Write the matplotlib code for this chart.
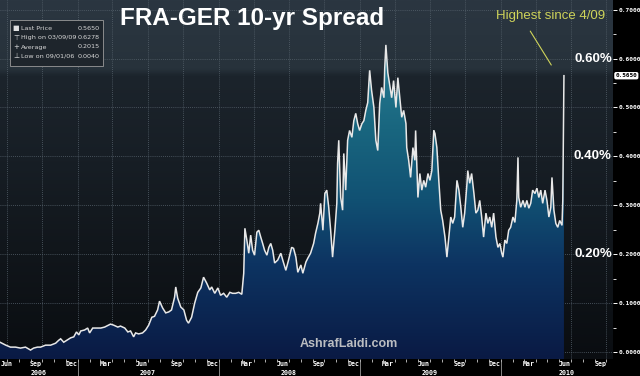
"""FRA-GER 10-yr spread chart (Bloomberg style)."""

import matplotlib

matplotlib.use("Agg")
import matplotlib.pyplot as plt
import matplotlib.dates as mdates
import matplotlib.transforms as mtransforms
import numpy as np
import pandas as pd
from matplotlib.colors import LinearSegmentedColormap
from matplotlib.patches import PathPatch, Rectangle
from matplotlib.ticker import MultipleLocator, FuncFormatter

# --- data --------------------------------------------------------------------
DATES = [
    "2006-06-14", "2006-06-29", "2006-07-11", "2006-07-24", "2006-08-06", "2006-08-19",
    "2006-09-01", "2006-09-09", "2006-09-19", "2006-09-27", "2006-10-10", "2006-10-23",
    "2006-11-05", "2006-11-13", "2006-11-18", "2006-11-26", "2006-12-04", "2006-12-14",
    "2006-12-22", "2006-12-29",
    "2007-01-04", "2007-01-09", "2007-01-19", "2007-01-27", "2007-02-01", "2007-02-09",
    "2007-02-19", "2007-03-02", "2007-03-12", "2007-03-22", "2007-03-27", "2007-04-04",
    "2007-04-15", "2007-04-22", "2007-05-03", "2007-05-11", "2007-05-18", "2007-05-26",
    "2007-05-31", "2007-06-08", "2007-06-18", "2007-06-26", "2007-07-04", "2007-07-12",
    "2007-07-19", "2007-07-27", "2007-08-01", "2007-08-09", "2007-08-17", "2007-08-25",
    "2007-09-01", "2007-09-09", "2007-09-12", "2007-09-17", "2007-09-25", "2007-10-03",
    "2007-10-10", "2007-10-15", "2007-10-23", "2007-10-31", "2007-11-08", "2007-11-16",
    "2007-11-23", "2007-12-01", "2007-12-09", "2007-12-14", "2007-12-22", "2007-12-30",
    "2008-01-06", "2008-01-14", "2008-01-22", "2008-01-30", "2008-02-06", "2008-02-14",
    "2008-02-22", "2008-03-01", "2008-03-06", "2008-03-09", "2008-03-14", "2008-03-19",
    "2008-03-24", "2008-03-29", "2008-04-03", "2008-04-09", "2008-04-14", "2008-04-19",
    "2008-04-24", "2008-04-29", "2008-05-05", "2008-05-10", "2008-05-15", "2008-05-20",
    "2008-05-25", "2008-06-02", "2008-06-10", "2008-06-15", "2008-06-23", "2008-06-30",
    "2008-07-08", "2008-07-13", "2008-07-19", "2008-07-24", "2008-08-01", "2008-08-06",
    "2008-08-14", "2008-08-19", "2008-08-26", "2008-09-03", "2008-09-08", "2008-09-14",
    "2008-09-19", "2008-09-21", "2008-09-27", "2008-10-02", "2008-10-07", "2008-10-12",
    "2008-10-17", "2008-10-22", "2008-10-28", "2008-11-02", "2008-11-04", "2008-11-07",
    "2008-11-12", "2008-11-17", "2008-11-20", "2008-11-25", "2008-11-30", "2008-12-05",
    "2008-12-11", "2008-12-16", "2008-12-21", "2008-12-26", "2008-12-31",
    "2009-01-06", "2009-01-11", "2009-01-16", "2009-01-21", "2009-01-26", "2009-01-31",
    "2009-02-06", "2009-02-11", "2009-02-16", "2009-02-21", "2009-02-26", "2009-03-04",
    "2009-03-06", "2009-03-09", "2009-03-14", "2009-03-24", "2009-03-29", "2009-04-04",
    "2009-04-09", "2009-04-14", "2009-04-19", "2009-04-24", "2009-04-30", "2009-05-02",
    "2009-05-07", "2009-05-12", "2009-05-18", "2009-05-23", "2009-05-25", "2009-05-31",
    "2009-06-05", "2009-06-10", "2009-06-15", "2009-06-20", "2009-06-26", "2009-07-01",
    "2009-07-06", "2009-07-11", "2009-07-14", "2009-07-19", "2009-07-24", "2009-07-29",
    "2009-08-03", "2009-08-09", "2009-08-14", "2009-08-19", "2009-08-24", "2009-08-29",
    "2009-09-03", "2009-09-09", "2009-09-14", "2009-09-19", "2009-09-24", "2009-09-29",
    "2009-10-05", "2009-10-07", "2009-10-12", "2009-10-17", "2009-10-23", "2009-10-28",
    "2009-11-02", "2009-11-07", "2009-11-12", "2009-11-17", "2009-11-23", "2009-11-28",
    "2009-12-03", "2009-12-08", "2009-12-13", "2009-12-19", "2009-12-24", "2009-12-29",
    "2010-01-03", "2010-01-06", "2010-01-11", "2010-01-16", "2010-01-21", "2010-01-26",
    "2010-02-01", "2010-02-06", "2010-02-11", "2010-02-14", "2010-02-16", "2010-02-21",
    "2010-02-27", "2010-03-04", "2010-03-09", "2010-03-14", "2010-03-19", "2010-03-24",
    "2010-03-30", "2010-04-04", "2010-04-09", "2010-04-14", "2010-04-19", "2010-04-25",
    "2010-04-30", "2010-05-05", "2010-05-10", "2010-05-13", "2010-05-18", "2010-05-23",
    "2010-05-28", "2010-06-02", "2010-06-08", "2010-06-10", "2010-06-13",
]
SPREAD = [
    0.020, 0.014, 0.010, 0.010, 0.008, 0.010,
    0.004, 0.008, 0.010, 0.010, 0.014, 0.014,
    0.018, 0.024, 0.027, 0.020, 0.024, 0.029,
    0.031, 0.041,
    0.035, 0.043, 0.045, 0.049, 0.039, 0.049,
    0.049, 0.049, 0.051, 0.055, 0.057, 0.055,
    0.051, 0.053, 0.049, 0.041, 0.043, 0.031,
    0.039, 0.037, 0.039, 0.045, 0.055, 0.071,
    0.073, 0.086, 0.104, 0.090, 0.080, 0.082,
    0.086, 0.112, 0.133, 0.110, 0.092, 0.086,
    0.065, 0.059, 0.071, 0.100, 0.122, 0.131,
    0.153, 0.141, 0.127, 0.133, 0.120, 0.131,
    0.116, 0.120, 0.112, 0.122, 0.120, 0.120,
    0.122, 0.118, 0.161, 0.253, 0.229, 0.202,
    0.239, 0.208, 0.198, 0.245, 0.249, 0.235,
    0.222, 0.208, 0.198, 0.214, 0.222, 0.208,
    0.182, 0.188, 0.202, 0.188, 0.167, 0.188,
    0.214, 0.212, 0.194, 0.163, 0.178, 0.161,
    0.184, 0.192, 0.202, 0.222, 0.243, 0.263,
    0.284, 0.304, 0.249, 0.324, 0.331, 0.296,
    0.249, 0.194, 0.249, 0.304, 0.386, 0.433,
    0.316, 0.290, 0.406, 0.331, 0.433, 0.453,
    0.439, 0.473, 0.488, 0.467, 0.453,
    0.467, 0.473, 0.494, 0.510, 0.576, 0.535,
    0.500, 0.433, 0.412, 0.508, 0.541, 0.520,
    0.580, 0.628, 0.571, 0.520, 0.555, 0.500,
    0.561, 0.520, 0.480, 0.494, 0.467, 0.418,
    0.392, 0.357, 0.418, 0.392, 0.453, 0.316,
    0.365, 0.331, 0.351, 0.337, 0.365, 0.351,
    0.371, 0.453, 0.447, 0.418, 0.351, 0.290,
    0.269, 0.235, 0.194, 0.235, 0.276, 0.263,
    0.276, 0.351, 0.331, 0.296, 0.255, 0.284,
    0.345, 0.371, 0.345, 0.365, 0.324, 0.284,
    0.290, 0.310, 0.276, 0.235, 0.284, 0.263,
    0.276, 0.255, 0.284, 0.235, 0.214, 0.222,
    0.202, 0.194, 0.229, 0.222, 0.249, 0.255,
    0.276, 0.265, 0.310, 0.398, 0.316, 0.296,
    0.310, 0.296, 0.310, 0.294, 0.304, 0.331,
    0.324, 0.335, 0.316, 0.331, 0.304, 0.331,
    0.310, 0.276, 0.296, 0.357, 0.290, 0.263,
    0.255, 0.269, 0.259, 0.310, 0.565,
]

LEGEND_SYMBOLS = ["\u25A0", "\u22A4", "+", "\u22A5"]
LEGEND_NAMES = ["Last Price", "High on 03/09/09", "Average", "Low on 09/01/06"]
LEGEND_VALUES = ["0.5650", "0.6278", "0.2015", "0.0040"]
LAST_PRICE = 0.565
PCT_LEVELS = [0.6, 0.4, 0.2]
YEARS = ["2006", "2007", "2008", "2009", "2010"]
YEAR_LABEL_DATES = ["2006-09-23", "2007-07-01", "2008-07-01", "2009-07-01", "2010-06-20"]
YEAR_STARTS = ["2007-01-01", "2008-01-01", "2009-01-01", "2010-01-01"]

X_START, X_END = "2006-06-14", "2010-10-18"
Y_MIN, Y_MAX = -0.0143, 0.7198

# --- styling ------------------------------------------------------------------
BG_CMAP = LinearSegmentedColormap.from_list(
    "bg", [(0.0, "#0a0d11"), (0.3, "#11161b"), (0.55, "#171e25"),
           (0.79, "#1c242c"), (0.81, "#27323b"), (1.0, "#2b3641")])
FILL_CMAP = LinearSegmentedColormap.from_list(
    "fill", [(0.0, "#0a1a44"), (0.3, "#0d3462"), (0.5, "#115173"),
             (0.72, "#19667f"), (1.0, "#2b8096")])
GRID_COLOR = "#56626c"
LINE_COLOR = "#e8e8e8"
NOTE_COLOR = "#cfd45a"
MONO = "DejaVu Sans Mono"
SANS = "Liberation Sans"


def dnum(s):
    return mdates.date2num(pd.Timestamp(s))


dates = pd.to_datetime(DATES)
x0, x1 = dnum(X_START), dnum(X_END)

fig = plt.figure(figsize=(6.4, 3.76), dpi=100, facecolor="black")
ax = fig.add_axes([0, 1 - 359 / 376, 613 / 640, 359 / 376])
ax.set_facecolor("#11161b")

# background gradient
grad = np.linspace(0, 1, 512).reshape(-1, 1)
ax.imshow(grad, extent=[x0, x1, Y_MIN, Y_MAX], origin="lower", aspect="auto",
          cmap=BG_CMAP, zorder=0, interpolation="bilinear")

# gradient area fill under the line
poly = ax.fill_between(dates, SPREAD, Y_MIN, color="none", linewidth=0)
clip = PathPatch(poly.get_paths()[0], transform=ax.transData, facecolor="none", edgecolor="none")
fill_img = ax.imshow(grad, extent=[x0, x1, Y_MIN, 0.64], origin="lower", aspect="auto",
                     cmap=FILL_CMAP, zorder=2, interpolation="bilinear")
fill_img.set_clip_path(clip)

ax.plot(dates, SPREAD, color=LINE_COLOR, lw=1.1, zorder=4, solid_joinstyle="miter")

ax.set_xlim(x0, x1)
ax.set_ylim(Y_MIN, Y_MAX)
for s in ax.spines.values():
    s.set_visible(False)

# grid: horizontal every 0.1, vertical at quarter starts
ax.yaxis.set_major_locator(MultipleLocator(0.1))
ax.yaxis.set_minor_locator(MultipleLocator(0.05))
ax.grid(axis="y", which="major", color=GRID_COLOR, lw=0.6, ls=(0, (1, 1.5)), zorder=1)
for q in pd.date_range(X_START, X_END, freq="QS-JAN"):
    ax.axvline(q, color=GRID_COLOR, lw=0.6, ls=(0, (1, 1.5)), zorder=1)

# right-hand value axis
ax.yaxis.tick_right()
ax.yaxis.set_major_formatter(FuncFormatter(lambda v, _: f"{v:.4f}"))
ax.tick_params(axis="y", which="major", length=3, width=0.7, color="white", pad=1,
               labelsize=4.5, labelcolor="white")
ax.tick_params(axis="y", which="minor", length=2, width=0.6, color="white")
for lbl in ax.get_yticklabels():
    lbl.set_fontfamily(MONO)
    lbl.set_fontweight("bold")

# bottom date axis
ax.xaxis.set_major_locator(mdates.MonthLocator(bymonth=(3, 6, 9, 12), bymonthday=15))
ax.xaxis.set_major_formatter(mdates.DateFormatter("%b"))
ax.xaxis.set_minor_locator(mdates.MonthLocator())
ax.tick_params(axis="x", which="major", length=0, pad=1.5, labelsize=4.8, labelcolor="white")
ax.tick_params(axis="x", which="minor", length=2, width=0.6, color="#cccccc")
for lbl in ax.get_xticklabels():
    lbl.set_fontfamily(MONO)
    lbl.set_fontweight("bold")

xtrans = mtransforms.blended_transform_factory(ax.transData, ax.transAxes)
for ys in YEAR_STARTS:
    ax.axvline(dnum(ys), ymin=-0.048, ymax=-0.009, color="#9a9a9a", lw=0.6, clip_on=False)
for yr, yd in zip(YEARS, YEAR_LABEL_DATES):
    ax.text(dnum(yd), -0.039, yr, transform=xtrans,
            ha="center", va="center", fontsize=4.8, color="white",
            fontfamily=MONO, fontweight="bold", clip_on=False)

# big percent labels on the right edge
ytrans = mtransforms.blended_transform_factory(ax.transAxes, ax.transData)
for lvl in PCT_LEVELS:
    ax.text(0.998, lvl, f"{lvl:.2f}%", transform=ytrans, ha="right", va="center",
            fontsize=9.5, color="white", fontweight="bold", fontfamily=SANS, zorder=6)

# last price tag
ax.text(1.004, LAST_PRICE, f"{LAST_PRICE:.4f}", transform=ytrans, ha="left", va="center",
        fontsize=4.3, color="black", fontfamily=MONO, fontweight="bold", clip_on=False,
        bbox=dict(boxstyle="round,pad=0.2,rounding_size=0.3", fc="white", ec="none"))

# annotation
ax.annotate("", xy=(dnum("2010-05-15"), 0.582), xytext=(dnum("2010-03-14"), 0.661),
            arrowprops=dict(arrowstyle="-", color=NOTE_COLOR, lw=0.8), zorder=6)
ax.text(dnum("2010-05-10"), 0.688, "Highest since 4/09",
        ha="center", va="center", fontsize=9.5, color=NOTE_COLOR, fontfamily=SANS, zorder=6)

# watermark
ax.text(dnum("2008-12-03"), 0.016, "AshrafLaidi.com",
        ha="center", va="center", fontsize=9, color="#cfcfcf", alpha=0.9,
        fontweight="bold", fontfamily=SANS, zorder=6)

# title
fig.text(252 / 640, 1 - 18 / 376, "FRA-GER 10-yr Spread", ha="center", va="center",
         fontsize=17.5, color="white", fontweight="bold", fontfamily=SANS)

# statistics box
fig.patches.append(Rectangle((10 / 640, 1 - 66 / 376), 93 / 640, 46 / 376,
                             transform=fig.transFigure, facecolor="#1e252c",
                             edgecolor="#9a9a9a", lw=0.6, zorder=5))
row_y = [28, 37.5, 47, 56]
for sym, name, val, ry in zip(LEGEND_SYMBOLS, LEGEND_NAMES, LEGEND_VALUES, row_y):
    yy = 1 - ry / 376
    fig.text(16 / 640, yy, sym, ha="center", va="center", fontsize=5,
             color="#e0e0e0", fontfamily="DejaVu Sans", zorder=6)
    fig.text(21 / 640, yy, name, ha="left", va="center", fontsize=4.6,
             color="#d8d8d8", fontfamily="DejaVu Sans", zorder=6)
    fig.text(100 / 640, yy, val, ha="right", va="center", fontsize=4.6,
             color="#d8d8d8", fontfamily="DejaVu Sans", zorder=6)

# keep the first (partly off-edge) month label inside the figure
fig.canvas.draw()
first_tick = ax.xaxis.get_major_ticks()[0]
first_tick.label1.set_horizontalalignment("left")

fig.savefig("out.png", dpi=100, facecolor="black")
